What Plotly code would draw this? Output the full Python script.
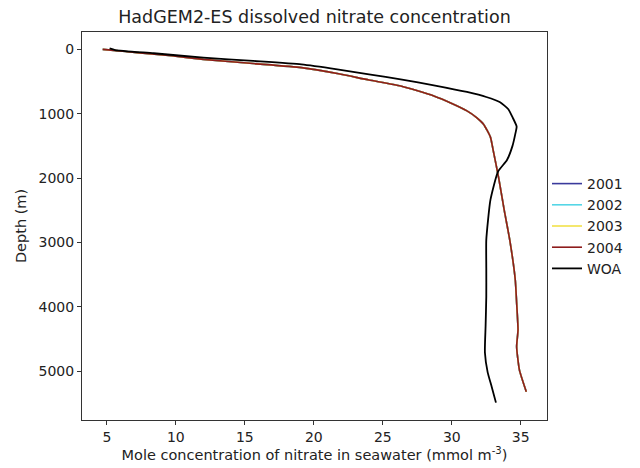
import plotly.graph_objects as go

# model depth levels (m) and nitrate (mmol m-3), same profile for every year
model_depth = [0, 15, 50, 100, 155, 220, 284, 380, 476, 569, 724, 840, 956,
               1060, 1163, 1364, 1570, 2000, 2500, 2960, 3580, 3940, 4360,
               4620, 4980, 5320]
model_nitrate = [4.7, 5.5, 7.2, 9.7, 12.0, 15.6, 19.1, 21.8, 24.0, 26.3, 28.7,
                 30.0, 31.1, 31.8, 32.3, 32.8, 33.0, 33.4, 33.8, 34.2, 34.6,
                 34.7, 34.8, 34.7, 34.9, 35.4]

years = ["2001", "2002", "2003", "2004"]
year_colors = ["#3a3a9c", "#55d6e6", "#f2e24a", "#8e1c1c"]

# World Ocean Atlas profile
woa_depth = [-15, 10, 60, 129, 180, 233, 310, 388, 470, 558, 662, 740, 822,
             930, 1054, 1200, 1318, 1500, 1720, 1900, 2340, 2960, 3400, 3840,
             4300, 4710, 5020, 5250, 5490]
woa_nitrate = [5.2, 5.6, 8.4, 12.0, 15.6, 19.1, 21.7, 24.0, 26.4, 28.7, 31.1,
               32.5, 33.5, 34.1, 34.4, 34.7, 34.6, 34.4, 34.0, 33.35, 32.8,
               32.5, 32.5, 32.5, 32.45, 32.4, 32.6, 32.9, 33.2]

fig = go.Figure()

for year, color in zip(years, year_colors):
    fig.add_trace(go.Scatter(x=model_nitrate, y=model_depth, mode="lines",
                             name=year,
                             line=dict(color=color, width=1.6, shape="spline",
                                       smoothing=0.5)))

fig.add_trace(go.Scatter(x=woa_nitrate, y=woa_depth, mode="lines", name="WOA",
                         line=dict(color="black", width=1.8, shape="spline",
                                   smoothing=0.5)))

axis_style = dict(showline=True, linecolor="#333333", linewidth=1, mirror=True,
                  ticks="outside", ticklen=4, tickcolor="#333333",
                  showgrid=False, zeroline=False,
                  tickfont=dict(size=14, color="#222222"))

# page body adds an 8px offset, margins account for it
fig.update_layout(
    width=640, height=468,
    margin=dict(l=70, r=101, t=24, b=56),
    paper_bgcolor="white", plot_bgcolor="white",
    font=dict(family="DejaVu Sans", color="#222222"),
    title=dict(text="HadGEM2-ES dissolved nitrate concentration",
               x=0.5, xref="paper", xanchor="center",
               yref="container", y=0.981, yanchor="middle",
               font=dict(size=17.5)),
    legend=dict(x=1.0, y=0.5, xanchor="left", yanchor="middle",
                font=dict(size=14), itemwidth=30, bgcolor="rgba(0,0,0,0)"),
    xaxis=dict(range=[3.2, 36.9], tickvals=[5, 10, 15, 20, 25, 30, 35],
               title=dict(text="Mole concentration of nitrate in seawater (mmol m<sup>-3</sup>)",
                          font=dict(size=14.5), standoff=2),
               **axis_style),
    yaxis=dict(range=[5760, -270], tickvals=[0, 1000, 2000, 3000, 4000, 5000],
               title=dict(text="Depth (m)", font=dict(size=14.5), standoff=8),
               **axis_style),
)

fig.write_html("out.html")
